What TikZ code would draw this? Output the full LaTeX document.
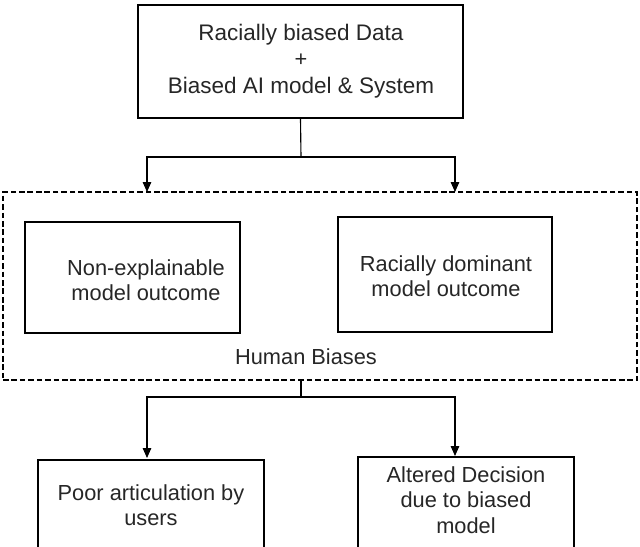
\documentclass[tikz,border=0pt]{standalone}
\usepackage{fontspec}
\setmainfont{Liberation Sans}
\usetikzlibrary{arrows.meta}
\begin{document}
\begin{tikzpicture}[x=0.025cm,y=-0.025cm,
  box/.style={draw,thick,inner sep=0pt},
  txt/.style={font=\fontsize{15.5}{18}\selectfont,align=center,text=black!85},
  arr/.style={-{Triangle[length=7pt,width=6pt]},thick}]
\useasboundingbox (0,0) rectangle (640,547);
% top box
\node[box,minimum width=325*0.025cm,minimum height=113*0.025cm] (top) at (300.5,61.5) {};
\node[txt,font=\fontsize{16}{18}\selectfont] (t1) at (301,35) {Racially biased Data};
\node[txt] (t2) at (301,60) {+};
\node[txt,font=\fontsize{16}{18}\selectfont] (t3) at (301,88) {Biased AI model \& System};
% dashed group
\node[box,dashed,dash pattern=on 4pt off 2pt,minimum width=634*0.025cm,minimum height=188*0.025cm] (grp) at (320,286) {};
\node[box,minimum width=215*0.025cm,minimum height=111*0.025cm,txt] (l) at (132.5,277.5) {};
\node[box,minimum width=214*0.025cm,minimum height=115*0.025cm] (r) at (445,274.5) {};
\node[txt] (lt) at (146,280) {Non-explainable\\model outcome};
\node[txt] (rt) at (446,276) {Racially dominant\\model outcome};
\node[txt] (hb) at (306,357) {Human Biases};
% connectors top
\coordinate (j1) at (301,157);
\coordinate (a1) at (147,192);
\coordinate (b1) at (455,192);
\draw[thick] (top.south) -- (j1);
\draw[arr] (j1) -| (a1);
\draw[arr] (j1) -| (b1);
% connectors bottom
\coordinate (j2) at (301,397);
\coordinate (a2) at (147,458);
\coordinate (b2) at (455,456);
\draw[thick] (grp.south -| j2) -- (j2);
\draw[arr] (j2) -| (a2);
\draw[arr] (j2) -| (b2);
% bottom boxes (cut off)
\draw[thick] (38,547) |- (264,460) -- (264,547);
\draw[thick] (358,547) |- (574,457) -- (574,547);
\node[txt] (bl) at (151,505) {Poor articulation by\\users};
\node[txt] (br) at (466,500) {Altered Decision\\due to biased\\model};
\end{tikzpicture}
\end{document}
